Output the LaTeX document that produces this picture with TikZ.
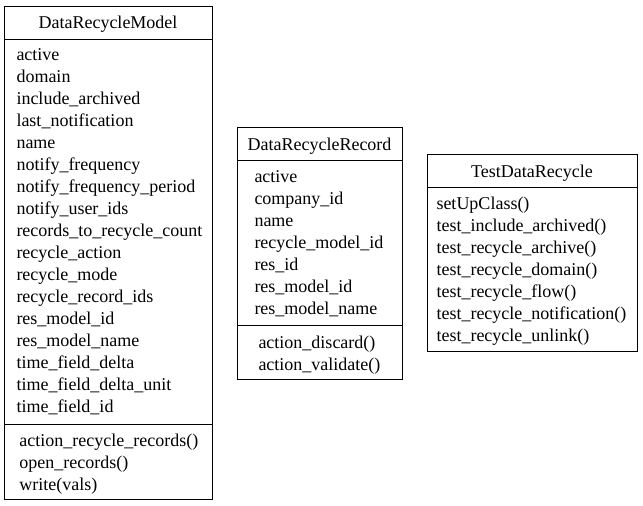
\documentclass[tikz,border=0pt]{standalone}
\usepackage{fontspec}
\setmainfont{Liberation Serif}
\begin{document}
\begin{tikzpicture}[x=1pt,y=-1pt,line width=1pt,
  boxst/.style={draw, anchor=north west, inner sep=0pt, outer sep=0pt},
  item/.style={anchor=base west, inner sep=0pt, font=\fontsize{18}{22}\selectfont},
  ttl/.style={anchor=base, inner sep=0pt, font=\fontsize{18}{22}\selectfont}]
\useasboundingbox (0,0) rectangle (643,506);
% Box 1
\node[boxst, minimum width=208pt, minimum height=493pt] (b1) at (4,6) {};
\draw (b1.west |- 0,39) -- (b1.east |- 0,39);
\draw (b1.west |- 0,424) -- (b1.east |- 0,424);
\node[ttl] (t1) at (108,28) {DataRecycleModel};
\foreach \t [count=\i] in {active,domain,include\_archived,last\_notification,name,notify\_frequency,notify\_frequency\_period,notify\_user\_ids,records\_to\_recycle\_count,recycle\_action,recycle\_mode,recycle\_record\_ids,res\_model\_id,res\_model\_name,time\_field\_delta,time\_field\_delta\_unit,time\_field\_id}
  \node[item] (a1\i) at (16,{60+22*(\i-1)}) {\t};
\foreach \t [count=\i] in {action\_recycle\_records(),open\_records(),write(vals)}
  \node[item] (m1\i) at (19,{446+22*(\i-1)}) {\t};
% Box 2
\node[boxst, minimum width=165pt, minimum height=252pt] (b2) at (237,127) {};
\draw (b2.west |- 0,160) -- (b2.east |- 0,160);
\draw (b2.west |- 0,325) -- (b2.east |- 0,325);
\node[ttl] (t2) at (319.5,150) {DataRecycleRecord};
\foreach \t [count=\i] in {active,company\_id,name,recycle\_model\_id,res\_id,res\_model\_id,res\_model\_name}
  \node[item] (a2\i) at (254,{182+22*(\i-1)}) {\t};
\foreach \t [count=\i] in {action\_discard(),action\_validate()}
  \node[item] (m2\i) at (258,{348+22*(\i-1)}) {\t};
% Box 3
\node[boxst, minimum width=210pt, minimum height=197pt] (b3) at (427,154) {};
\draw (b3.west |- 0,187) -- (b3.east |- 0,187);
\node[ttl] (t3) at (532,177) {TestDataRecycle};
\foreach \t [count=\i] in {setUpClass(),test\_include\_archived(),test\_recycle\_archive(),test\_recycle\_domain(),test\_recycle\_flow(),test\_recycle\_notification(),test\_recycle\_unlink()}
  \node[item] (a3\i) at (436,{209+22*(\i-1)}) {\t};
\end{tikzpicture}
\end{document}
